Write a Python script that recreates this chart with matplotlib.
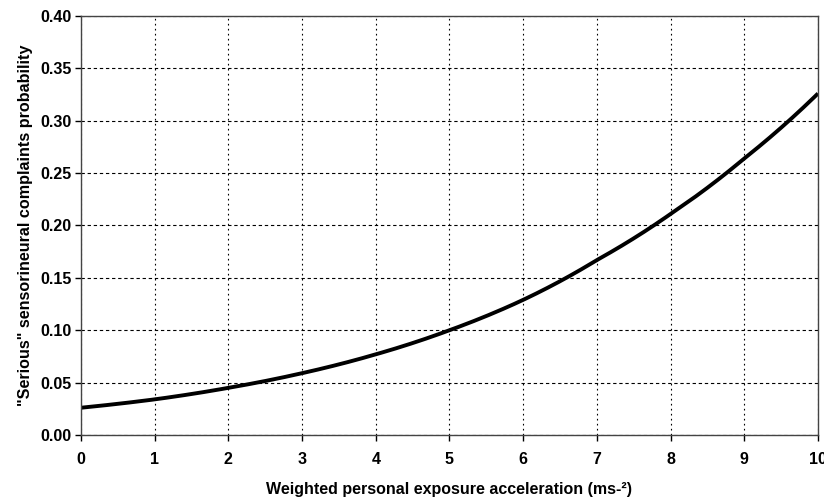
import numpy as np
import matplotlib.pyplot as plt

# curve at integer accelerations
accel = [0, 1, 2, 3, 4, 5, 6, 7, 8, 9, 10]
prob = [0.026, 0.034, 0.045, 0.059, 0.077, 0.100, 0.129, 0.167, 0.211, 0.264, 0.326]

plt.rcParams['font.family'] = ['Liberation Sans', 'DejaVu Sans']
plt.rcParams['font.weight'] = 'bold'

fig = plt.figure(figsize=(8.24, 4.99), dpi=100)
ax = fig.add_axes([0.0983, 0.1283, 0.8944, 0.8397])

# smooth curve through the read points (log scale is near linear)
xs = np.linspace(0, 10, 200)
ys = np.exp(np.interp(xs, accel, np.log(prob)))
ax.plot(xs, ys, color='black', linewidth=2.8, solid_capstyle='butt')

ax.set_xlim(0, 10)
ax.set_ylim(0, 0.40)
ax.set_xticks(range(0, 11))
ax.set_yticks(np.arange(0, 0.401, 0.05))
ax.set_yticklabels(["%.2f" % v for v in np.arange(0, 0.401, 0.05)])

ax.xaxis.grid(True, linestyle=(0, (1.5, 3)), color='black', linewidth=0.8)
ax.yaxis.grid(True, linestyle=(0, (3, 2.5)), color='black', linewidth=0.8)

ax.tick_params(axis='both', direction='out', length=4, width=1, labelsize=11.5)
ax.tick_params(axis='x', pad=8)
ax.tick_params(axis='y', pad=3)
for s in ax.spines.values():
    s.set_color('#444444')
    s.set_linewidth(1.0)

ax.set_xlabel("Weighted personal exposure acceleration (ms-²)", fontsize=11.5, fontweight='bold', labelpad=11)
ax.set_ylabel('"Serious" sensorineural complaints probability', fontsize=11.6, fontweight='bold', labelpad=5)

plt.savefig("out.png", dpi=100)
